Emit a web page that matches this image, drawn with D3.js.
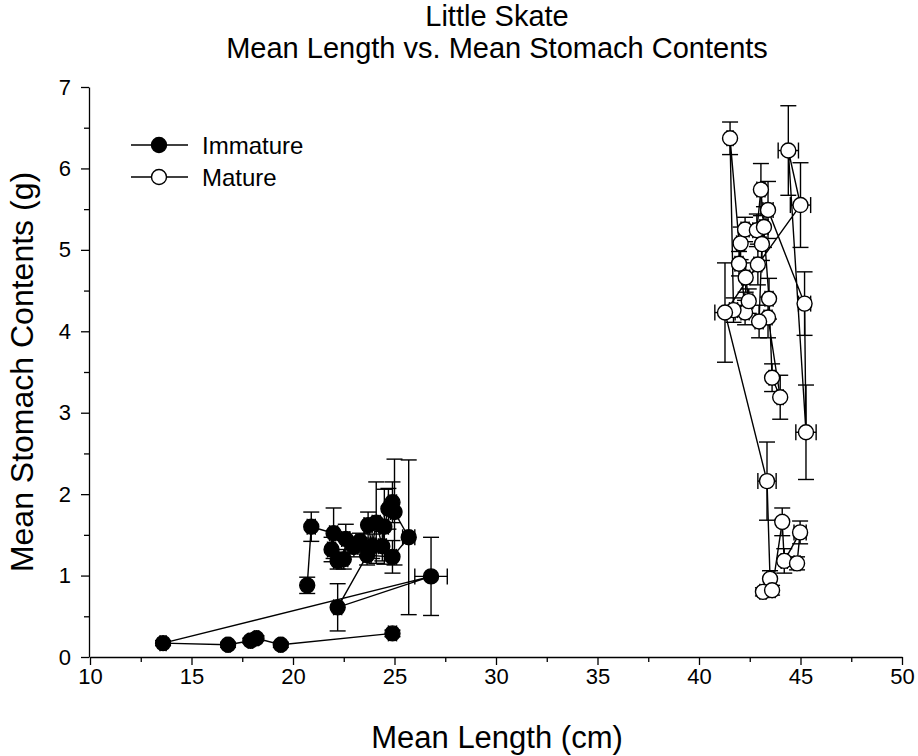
<!DOCTYPE html>
<html><head><meta charset="utf-8">
<script src="https://cdn.jsdelivr.net/npm/d3@7"></script>
<style>
html,body{margin:0;padding:0;background:#fff;}
svg{display:block;font-family:"Liberation Sans",Arial,sans-serif;}
</style></head>
<body><svg id="c" width="918" height="756"></svg>
<script>
// ---- data ----
const titleLines = ["Little Skate", "Mean Length vs. Mean Stomach Contents"];
const xLabel = "Mean Length (cm)";
const yLabel = "Mean Stomach Contents (g)";
const seriesNames = ["Immature", "Mature"];
const xTicks = [10, 15, 20, 25, 30, 35, 40, 45, 50];
const xMinorTicks = [12.5, 17.5, 22.5, 27.5, 32.5, 37.5, 42.5, 47.5];
const yTicks = [0, 1, 2, 3, 4, 5, 6, 7];
const yMinorTicks = [0.5, 1.5, 2.5, 3.5, 4.5, 5.5, 6.5];

// Immature: mean length, mean stomach contents, x error, y error
const immLen  = [24.9, 19.4, 18.2, 17.9, 16.8, 13.6, 26.8, 22.2, 23.65, 24.9, 25.7, 25.0, 24.9, 24.7, 24.5, 24.4, 24.1, 23.9, 23.7, 23.3, 23.0, 22.6, 22.5, 22.2, 21.9, 22.0, 20.9, 20.7];
const immSto  = [0.29, 0.15, 0.23, 0.20, 0.15, 0.17, 0.99, 0.61, 1.25, 1.23, 1.47, 1.78, 1.90, 1.82, 1.60, 1.36, 1.65, 1.36, 1.62, 1.42, 1.35, 1.45, 1.20, 1.18, 1.32, 1.52, 1.60, 0.88];
const immXErr = [0.2, 0.1, 0.1, 0.1, 0.1, 0.15, 0.8, 0.2, 0.2, 0.2, 0.3, 0.2, 0.2, 0.2, 0.2, 0.2, 0.2, 0.2, 0.2, 0.2, 0.2, 0.2, 0.2, 0.2, 0.2, 0.2, 0.2, 0.1];
const immYErr = [0.04, 0.03, 0.03, 0.03, 0.03, 0.03, 0.48, 0.29, 0.12, 0.20, 0.95, 0.65, 0.25, 0.25, 0.46, 0.18, 0.50, 0.15, 0.16, 0.10, 0.12, 0.18, 0.12, 0.10, 0.15, 0.31, 0.18, 0.10];

// Mature
const matLen  = [42.27, 41.53, 41.70, 42.45, 42.30, 41.97, 42.05, 42.27, 42.85, 43.05, 43.45, 43.60, 44.00, 43.40, 42.96, 43.10, 43.20, 43.40, 45.20, 45.27, 44.40, 45.00, 42.90, 41.28, 43.35, 43.50, 43.15, 43.60, 44.10, 44.20, 44.98, 44.83];
const matSto  = [4.23, 6.37, 4.26, 4.37, 4.66, 4.83, 5.08, 5.25, 5.24, 5.74, 4.40, 3.43, 3.19, 4.17, 4.12, 5.07, 5.28, 5.49, 4.34, 2.76, 6.22, 5.55, 4.82, 4.23, 2.16, 0.96, 0.80, 0.82, 1.66, 1.18, 1.53, 1.15];
const matXErr = [0.2, 0.15, 0.2, 0.2, 0.2, 0.2, 0.2, 0.2, 0.2, 0.2, 0.2, 0.15, 0.15, 0.2, 0.2, 0.2, 0.2, 0.25, 0.3, 0.5, 0.5, 0.5, 0.2, 0.5, 0.45, 0.15, 0.15, 0.15, 0.1, 0.15, 0.3, 0.15];
const matYErr = [0.15, 0.20, 0.15, 0.15, 0.18, 0.15, 0.20, 0.15, 0.20, 0.32, 0.25, 0.17, 0.27, 0.25, 0.20, 0.20, 0.25, 0.35, 0.39, 0.58, 0.55, 0.52, 0.25, 0.61, 0.48, 0.10, 0.05, 0.06, 0.17, 0.15, 0.14, 0.08];

// ---- drawing ----
const svg = d3.select("#c");
const x = d3.scaleLinear().domain([10, 50]).range([90, 902]);
const y = d3.scaleLinear().domain([0, 7]).range([657, 87]);

const font = "Liberation Sans, Arial, sans-serif";

// titles
svg.append("text").attr("x", 497).attr("y", 26).attr("text-anchor", "middle")
  .attr("font-size", 29).attr("font-family", font).text(titleLines[0]);
svg.append("text").attr("x", 497).attr("y", 58).attr("text-anchor", "middle")
  .attr("font-size", 29).attr("font-family", font).text(titleLines[1]);

// axes
const gx = svg.append("g").attr("transform", "translate(0,657)");
gx.call(d3.axisBottom(x).tickValues(xTicks).tickSize(8).tickSizeOuter(0).tickPadding(3).tickFormat(d3.format("d")));
gx.append("g").call(d3.axisBottom(x).tickValues(xMinorTicks).tickSize(5).tickSizeOuter(0).tickFormat(""))
  .select(".domain").remove();
const gy = svg.append("g").attr("transform", "translate(89,0)");
gy.call(d3.axisLeft(y).tickValues(yTicks).tickSize(8).tickSizeOuter(0).tickPadding(10).tickFormat(d3.format("d")));
gy.append("g").call(d3.axisLeft(y).tickValues(yMinorTicks).tickSize(5).tickSizeOuter(0).tickFormat(""))
  .select(".domain").remove();
svg.selectAll(".tick text").attr("font-size", 22).attr("font-family", font).attr("fill", "#000");
svg.selectAll(".domain, .tick line").attr("stroke", "#000").attr("stroke-width", 1.3);

// axis labels
svg.append("text").attr("x", 497).attr("y", 748).attr("text-anchor", "middle")
  .attr("font-size", 31).attr("font-family", font).text(xLabel);
svg.append("text").attr("transform", "translate(33,372) rotate(-90)").attr("text-anchor", "middle")
  .attr("font-size", 32).attr("font-family", font).text(yLabel);

function mk(lens, stos, xe, ye) {
  return lens.map((v, i) => ({x: v, y: stos[i], xe: xe[i], ye: ye[i]}));
}
const series = [
  {name: seriesNames[0], fill: "#000", data: mk(immLen, immSto, immXErr, immYErr)},
  {name: seriesNames[1], fill: "#fff", data: mk(matLen, matSto, matXErr, matYErr)}
];

const cap = 8, r = 7.5;
const line = d3.line().x(d => x(d.x)).y(d => y(d.y));
series.forEach(s => {
  const g = svg.append("g");
  g.append("path").datum(s.data).attr("d", line).attr("fill", "none")
    .attr("stroke", "#000").attr("stroke-width", 1.4);
  const eb = g.append("g").attr("stroke", "#000").attr("stroke-width", 1.4);
  s.data.forEach(d => {
    const cx = x(d.x), cy = y(d.y);
    const y1 = y(d.y + d.ye), y2 = y(d.y - d.ye);
    const x1 = x(d.x - d.xe), x2 = x(d.x + d.xe);
    eb.append("line").attr("x1", cx).attr("x2", cx).attr("y1", y1).attr("y2", y2);
    eb.append("line").attr("x1", cx - cap).attr("x2", cx + cap).attr("y1", y1).attr("y2", y1);
    eb.append("line").attr("x1", cx - cap).attr("x2", cx + cap).attr("y1", y2).attr("y2", y2);
    eb.append("line").attr("x1", x1).attr("x2", x2).attr("y1", cy).attr("y2", cy);
    eb.append("line").attr("x1", x1).attr("x2", x1).attr("y1", cy - cap).attr("y2", cy + cap);
    eb.append("line").attr("x1", x2).attr("x2", x2).attr("y1", cy - cap).attr("y2", cy + cap);
  });
  g.selectAll("circle").data(s.data).join("circle")
    .attr("cx", d => x(d.x)).attr("cy", d => y(d.y)).attr("r", r)
    .attr("fill", s.fill).attr("stroke", "#000").attr("stroke-width", 1.4);
});

// legend
const lg = svg.append("g");
series.forEach((s, i) => {
  const ly = 145 + i * 32;
  lg.append("line").attr("x1", 131).attr("x2", 188).attr("y1", ly).attr("y2", ly)
    .attr("stroke", "#000").attr("stroke-width", 1.4);
  lg.append("circle").attr("cx", 159).attr("cy", ly).attr("r", r)
    .attr("fill", s.fill).attr("stroke", "#000").attr("stroke-width", 1.4);
  lg.append("text").attr("x", 202).attr("y", ly + 8.5).attr("font-size", 24)
    .attr("font-family", font).text(s.name);
});
</script></body></html>
